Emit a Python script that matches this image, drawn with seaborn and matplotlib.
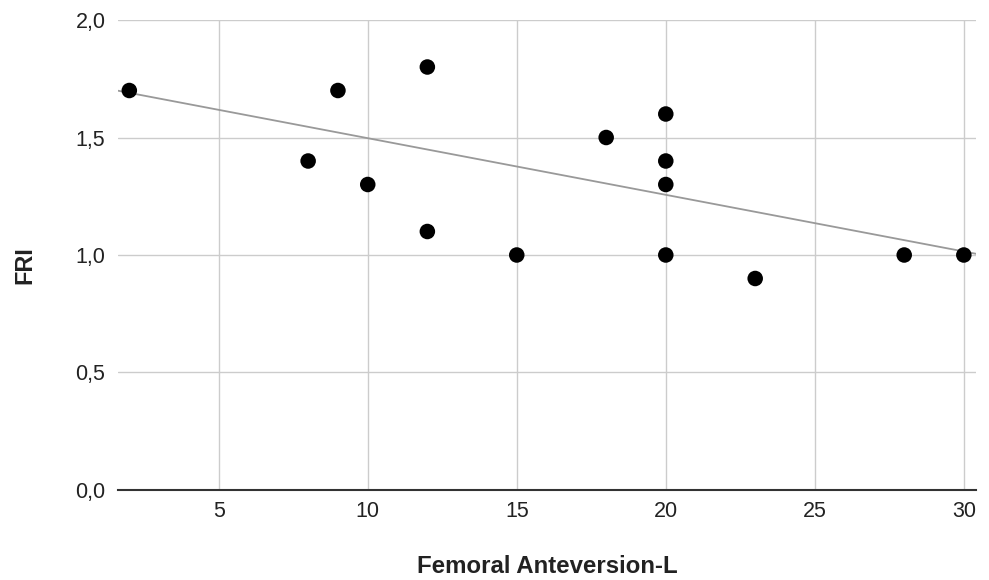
import matplotlib
matplotlib.use("Agg")
import matplotlib.pyplot as plt
import seaborn as sns
import numpy as np
import pandas as pd

# ---- data ----
anteversion = [2, 8, 9, 10, 12, 12, 15, 18, 20, 20, 20, 20, 23, 28, 30]
fri = [1.7, 1.4, 1.7, 1.3, 1.8, 1.1, 1.0, 1.5, 1.6, 1.4, 1.3, 1.0, 0.9, 1.0, 1.0]
trend_x = [2, 30]          # trendline
trend_y = [1.69, 1.015]
x_ticks = [5, 10, 15, 20, 25, 30]
x_tick_labels = ["5", "10", "15", "20", "25", "30"]
y_ticks = [0.0, 0.5, 1.0, 1.5, 2.0]
y_tick_labels = ["0,0", "0,5", "1,0", "1,5", "2,0"]
x_label = "Femoral Anteversion-L"
y_label = "FRI"

df = pd.DataFrame({"x": anteversion, "y": fri})

sns.set_theme(style="white")
plt.rcParams["font.family"] = ["Liberation Sans", "DejaVu Sans"]

fig = plt.figure(figsize=(9.89, 5.80), dpi=100)
ax = fig.add_axes([0.1193, 0.1552, 0.9869 - 0.1193, 0.9655 - 0.1552])

xlim = (1.62, 30.41)
ax.set_xlim(*xlim)
ax.set_ylim(0, 2.0)

# gridlines
ax.set_xticks(x_ticks)
ax.set_yticks(y_ticks)
ax.grid(True, color="#cccccc", linewidth=1.0)
ax.set_axisbelow(True)

# trendline across the plot width
slope = (trend_y[1] - trend_y[0]) / (trend_x[1] - trend_x[0])
tx = np.array(xlim)
ty = trend_y[0] + slope * (tx - trend_x[0])
sns.lineplot(x=tx, y=ty, ax=ax, color="#999999", linewidth=1.3, zorder=2)

sns.scatterplot(data=df, x="x", y="y", ax=ax, color="black", s=125,
                edgecolor="none", zorder=3)

ax.set_xticklabels(x_tick_labels)
ax.set_yticklabels(y_tick_labels)
ax.tick_params(axis="both", length=0, labelsize=15.5, colors="#222222")
ax.tick_params(axis="x", pad=8)
ax.tick_params(axis="y", pad=9)

for side in ["top", "right", "left"]:
    ax.spines[side].set_visible(False)
ax.spines["bottom"].set_color("#333333")
ax.spines["bottom"].set_linewidth(1.5)
ax.spines["bottom"].set_zorder(4)

ax.set_xlabel(x_label, fontsize=17.3, fontweight="bold", color="#222222")
ax.set_ylabel(y_label, fontsize=16.8, fontweight="bold", color="#222222")
ax.xaxis.set_label_coords(0.5, -0.1638)
ax.xaxis.label.set_va("center")
ax.yaxis.set_label_coords(-0.1084, 0.4787)
ax.yaxis.label.set_va("center")

fig.savefig("out.png", dpi=100)
